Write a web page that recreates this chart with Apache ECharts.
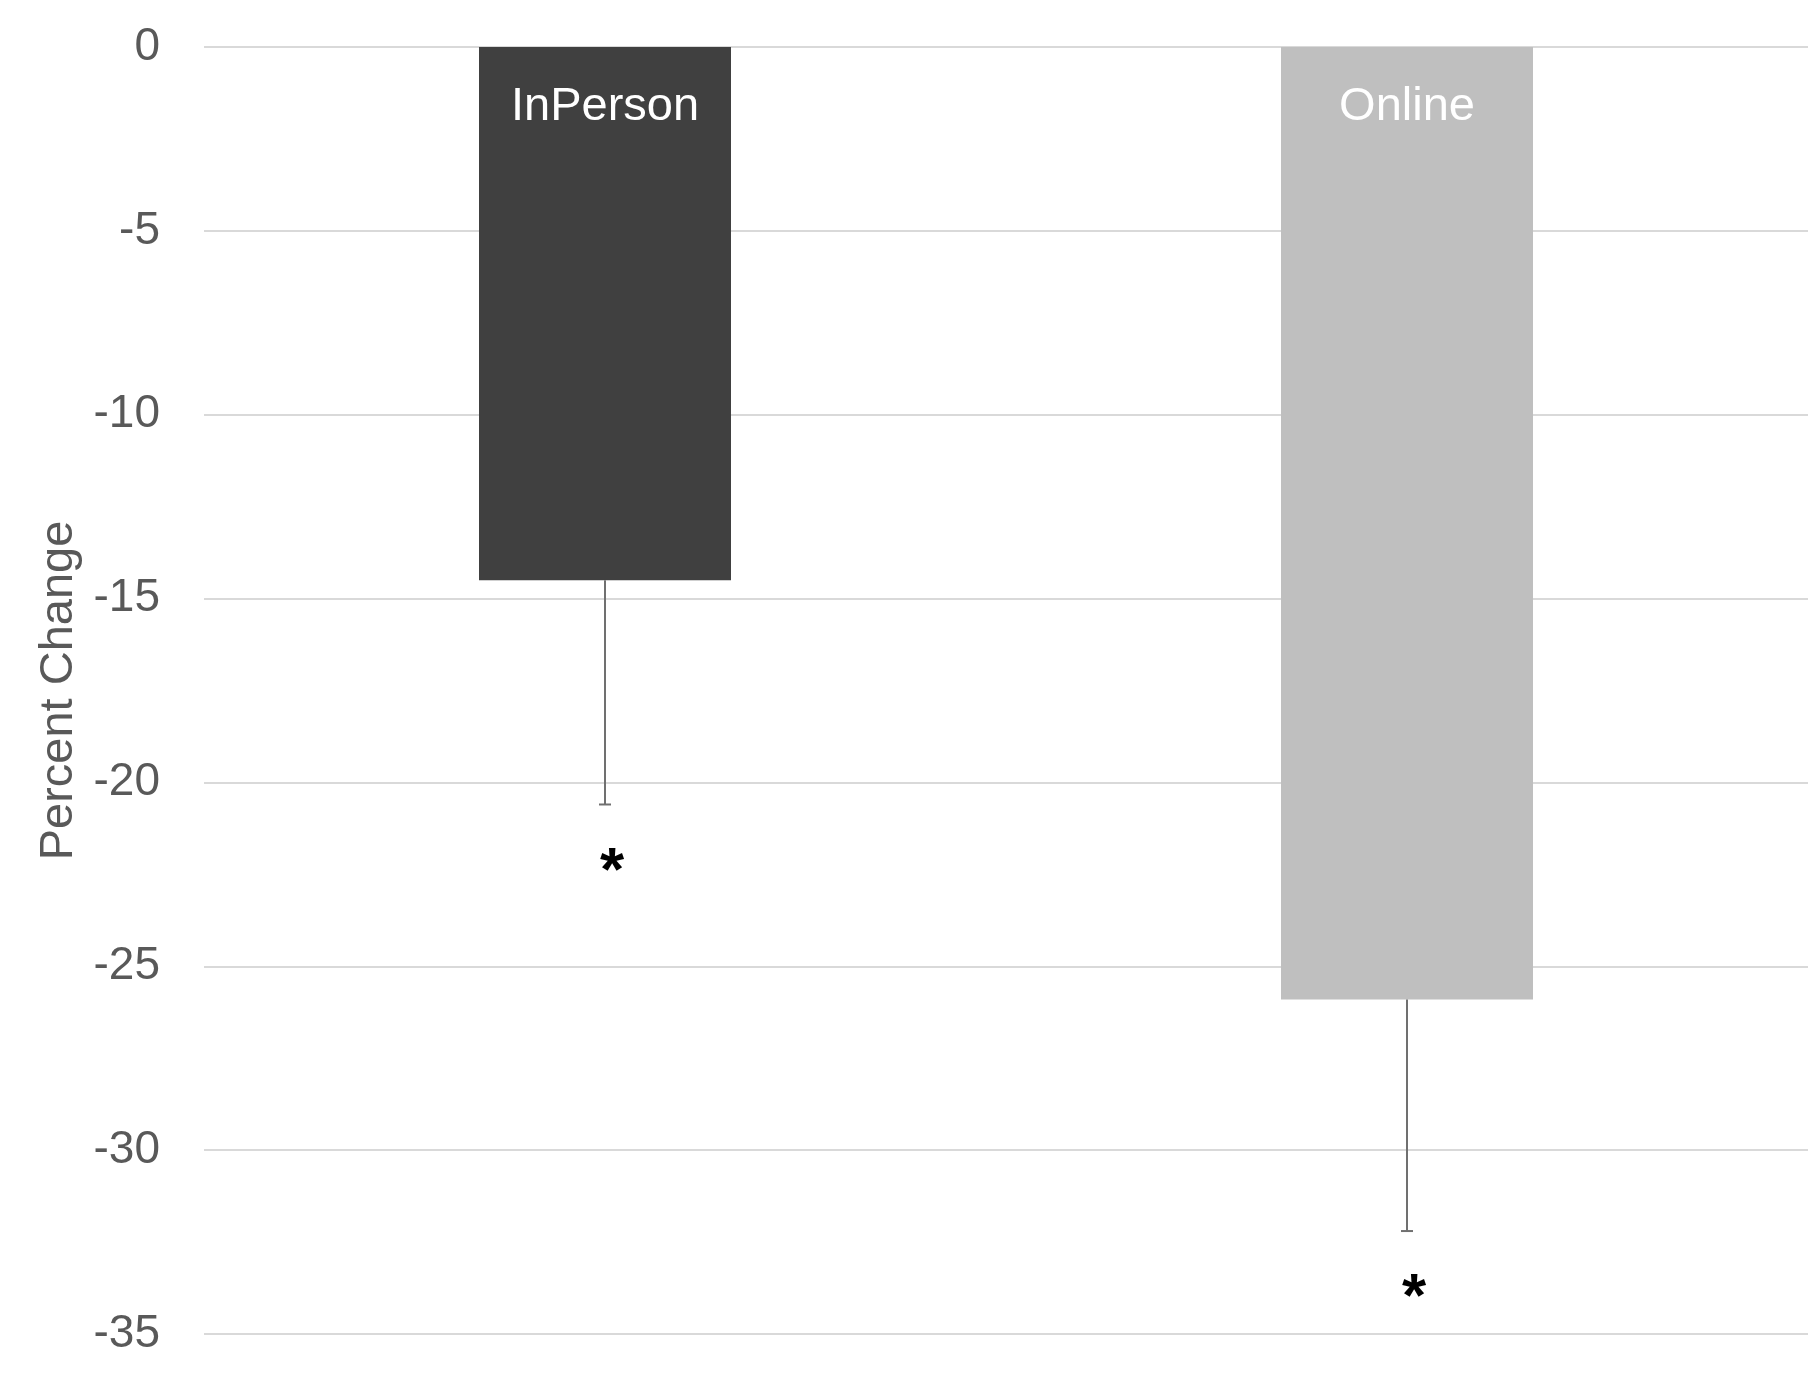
<!DOCTYPE html>
<html>
<head>
<meta charset="utf-8">
<script src="https://cdn.jsdelivr.net/npm/echarts@6/dist/echarts.min.js"></script>
<style>
  html, body { margin: 0; padding: 0; background: #ffffff; }
  #chart { width: 1816px; height: 1386px; }
</style>
</head>
<body>
<div id="chart"></div>
<script>
// Percent change by delivery mode, with lower error bars and significance marks
const categories = ['InPerson', 'Online'];
const meanChange = [-14.5, -25.9];
const lowerError = [6.1, 6.3];
const sigMarks = ['*', '*'];
const barColors = ['#404040', '#bfbfbf'];

const FONT = '"Liberation Sans", Arial, sans-serif';

const chart = echarts.init(document.getElementById('chart'), null, { renderer: 'canvas' });

const errorData = categories.map((c, i) => [i, meanChange[i], meanChange[i] - lowerError[i], sigMarks[i]]);

chart.setOption({
  backgroundColor: '#ffffff',
  animation: false,
  grid: { left: 204, right: 8, top: 47, bottom: 52, containLabel: false },
  xAxis: {
    type: 'category',
    data: categories,
    axisLine: { show: false },
    axisTick: { show: false },
    axisLabel: { show: false },
    splitLine: { show: false }
  },
  yAxis: {
    type: 'value',
    min: -35,
    max: 0,
    interval: 5,
    name: 'Percent Change',
    nameLocation: 'middle',
    nameGap: 120,
    nameRotate: 90,
    nameTextStyle: { fontFamily: FONT, fontSize: 47, color: '#595959' },
    axisLine: { show: false },
    axisTick: { show: false },
    axisLabel: { fontFamily: FONT, fontSize: 46, color: '#595959', margin: 44 },
    splitLine: { lineStyle: { color: '#d9d9d9', width: 2 } }
  },
  series: [
    {
      type: 'bar',
      barWidth: 252,
      data: meanChange.map((v, i) => ({ value: v, itemStyle: { color: barColors[i] } })),
      label: {
        show: true,
        position: 'insideTop',
        distance: 37,
        formatter: p => categories[p.dataIndex],
        fontFamily: FONT,
        fontSize: 47,
        color: '#ffffff'
      },
      z: 2
    },
    {
      type: 'custom',
      data: errorData,
      z: 3,
      renderItem: function (params, api) {
        const x = api.value(0);
        const top = api.coord([x, api.value(1)]);
        const bot = api.coord([x, api.value(2)]);
        const cap = 6;
        const stroke = { stroke: '#707070', lineWidth: 2 };
        return {
          type: 'group',
          children: [
            { type: 'line', shape: { x1: top[0], y1: top[1], x2: bot[0], y2: bot[1] }, style: stroke },
            { type: 'line', shape: { x1: bot[0] - cap, y1: bot[1], x2: bot[0] + cap, y2: bot[1] }, style: stroke },
            {
              type: 'text',
              x: bot[0] + 7,
              y: bot[1] + 68,
              style: {
                text: api.value(3),
                fontFamily: FONT,
                fontWeight: 'bold',
                fontSize: 62,
                fill: '#000000',
                align: 'center',
                verticalAlign: 'middle'
              }
            }
          ]
        };
      }
    }
  ]
});
</script>
</body>
</html>
